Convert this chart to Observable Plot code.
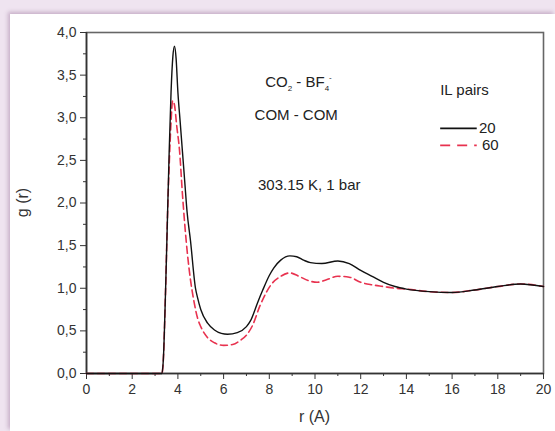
<!DOCTYPE html>
<html><head><meta charset="utf-8">
<script src="https://cdn.jsdelivr.net/npm/d3@7"></script>
<script src="https://cdn.jsdelivr.net/npm/@observablehq/plot@0.6"></script>
<style>
body{margin:0;background:#efe4f0;width:555px;height:431px;overflow:hidden;position:relative;font-family:"Liberation Sans",Arial,sans-serif}
#panel{position:absolute;left:10px;top:14px;right:0;bottom:0;background:#fff;box-shadow:-2px -2px 4px rgba(150,110,150,0.45)}
#chart{position:absolute;left:0;top:0}
</style></head><body><div id="panel"></div><div id="chart"></div>
<script>
// series "20 IL pairs"
const r20 = [0, 1, 2, 3, 3.3, 3.36, 3.46, 3.55, 3.62, 3.7, 3.78, 3.85, 3.92, 4.0, 4.1, 4.2, 4.3, 4.4, 4.55, 4.77, 4.86, 5.0, 5.3, 5.6, 5.9, 6.17, 6.6, 7.0, 7.18, 7.5, 7.7, 8.0, 8.2, 8.5, 8.9, 9.2, 9.5, 9.8, 10.3, 11.0, 11.5, 12.0, 12.5, 13.0, 13.5, 14.0, 15.0, 16.0, 17.0, 18.0, 19.0, 20.0];
const g20 = [0, 0, 0, 0, 0, 0.15, 0.97, 1.9, 2.62, 3.3, 3.72, 3.84, 3.7, 3.3, 2.95, 2.6, 2.25, 1.9, 1.56, 1.0, 0.89, 0.75, 0.59, 0.51, 0.47, 0.46, 0.48, 0.55, 0.62, 0.84, 0.97, 1.15, 1.24, 1.33, 1.38, 1.37, 1.33, 1.30, 1.29, 1.32, 1.29, 1.21, 1.14, 1.07, 1.02, 0.99, 0.96, 0.95, 0.98, 1.02, 1.05, 1.02];
// series "60 IL pairs"
const r60 = [0, 1, 2, 3, 3.3, 3.36, 3.46, 3.55, 3.62, 3.7, 3.77, 3.85, 3.95, 4.07, 4.2, 4.3, 4.4, 4.55, 4.7, 4.86, 5.0, 5.3, 5.6, 6.0, 6.4, 6.74, 7.0, 7.26, 7.6, 8.1, 8.5, 8.9, 9.3, 9.7, 10.1, 10.5, 11.0, 11.5, 12.0, 12.5, 13.0, 13.5, 14.0, 15.0, 16.0, 17.0, 18.0, 19.0, 20.0];
const g60 = [0, 0, 0, 0, 0, 0.15, 0.97, 1.9, 2.45, 2.95, 3.2, 3.15, 2.9, 2.62, 2.1, 1.75, 1.45, 1.1, 0.85, 0.65, 0.55, 0.42, 0.36, 0.33, 0.34, 0.39, 0.45, 0.56, 0.80, 1.05, 1.14, 1.18, 1.14, 1.09, 1.07, 1.10, 1.14, 1.13, 1.07, 1.04, 1.02, 1.0, 0.99, 0.96, 0.95, 0.98, 1.02, 1.05, 1.02];
const seriesNames = ["20", "60"];
const xTicks = [0, 2, 4, 6, 8, 10, 12, 14, 16, 18, 20];
const xMinor = [1, 3, 5, 7, 9, 11, 13, 15, 17, 19];
const yTicks = [0, 0.5, 1, 1.5, 2, 2.5, 3, 3.5, 4];
const yMinor = [0.25, 0.75, 1.25, 1.75, 2.25, 2.75, 3.25, 3.75];
const xLabel = "r (A)";
const yLabel = "g (r)";
const legendTitle = "IL pairs";

const d20 = r20.map((r, i) => ({r, g: g20[i]}));
const d60 = r60.map((r, i) => ({r, g: g60[i]}));
const fmt = d => d.toFixed(1).replace(".", ",");

const plot = Plot.plot({
  width: 555, height: 431,
  marginLeft: 86, marginRight: 12, marginTop: 32, marginBottom: 58,
  style: {background: "transparent", fontFamily: "'Liberation Sans', Arial, sans-serif", color: "#333"},
  x: {domain: [0, 20]},
  y: {domain: [0, 4]},
  marks: [
    Plot.frame({stroke: "#666", strokeWidth: 1.6}),
    Plot.axisX({ticks: xMinor, tickSize: 3, tickFormat: () => "", label: null, stroke: "#333"}),
    Plot.axisY({ticks: yMinor, tickSize: 3, tickFormat: () => "", label: null, stroke: "#333"}),
    Plot.axisX({ticks: xTicks, tickSize: 6, tickPadding: 5, tickFormat: d => d, label: null, stroke: "#333", fill: "#333"}),
    Plot.axisY({ticks: yTicks, tickSize: 6, tickPadding: 4, tickFormat: fmt, label: null, stroke: "#333", fill: "#333"}),
    Plot.ruleX([0], {stroke: "#333", strokeWidth: 1.6}),
    Plot.ruleY([0], {stroke: "#333", strokeWidth: 1.6}),
    Plot.line(d60, {x: "r", y: "g", stroke: "#e8324f", strokeWidth: 1.6, strokeDasharray: "7,4", curve: "monotone-x"}),
    Plot.line(d20, {x: "r", y: "g", stroke: "#111", strokeWidth: 1.4, curve: "monotone-x"})
  ]
});
document.getElementById("chart").append(plot);

const svg = d3.select(plot);
svg.selectAll("text").style("font-size", "14px").style("font-family", "'Liberation Sans', Arial, sans-serif");
const sx = plot.scale("x"), sy = plot.scale("y");
const X = v => sx.apply(v), Y = v => sy.apply(v);
const font = "'Liberation Sans', Arial, sans-serif";

// axis titles
svg.append("text").attr("x", X(10)).attr("y", Y(0) + 49).attr("text-anchor", "middle")
  .attr("font-family", font).attr("font-size", 16).attr("fill", "#333").text(xLabel);
svg.append("text").attr("transform", `translate(${X(0) - 58},${Y(2)}) rotate(-90)`).attr("text-anchor", "middle")
  .attr("font-family", font).attr("font-size", 16).attr("fill", "#333").text(yLabel);

// annotations
const t1 = svg.append("text").attr("x", X(9.3)).attr("y", Y(3.36)).attr("text-anchor", "middle")
  .attr("font-family", font).attr("font-size", 15).attr("fill", "#222");
t1.append("tspan").text("CO");
t1.append("tspan").attr("font-size", 8).attr("dy", 4).text("2");
t1.append("tspan").attr("dy", -4).text(" - BF");
t1.append("tspan").attr("font-size", 8).attr("dy", 4).text("4");
t1.append("tspan").attr("font-size", 8).attr("dy", -11).text("-");
svg.append("text").attr("x", X(9.2)).attr("y", Y(2.97)).attr("text-anchor", "middle")
  .attr("font-family", font).attr("font-size", 15).attr("fill", "#222").text("COM - COM");
svg.append("text").attr("x", X(9.77)).attr("y", Y(2.15)).attr("text-anchor", "middle")
  .attr("font-family", font).attr("font-size", 15).attr("fill", "#222").text("303.15 K, 1 bar");

// legend
svg.append("text").attr("x", X(15.5)).attr("y", Y(3.26)).attr("text-anchor", "start")
  .attr("font-family", font).attr("font-size", 15).attr("fill", "#222").text(legendTitle);
const legY = [2.87, 2.67];
const legStyles = [{stroke: "#111", dash: null}, {stroke: "#e8324f", dash: "10,7"}];
seriesNames.forEach((name, i) => {
  svg.append("line").attr("x1", X(15.5)).attr("x2", X(17.1)).attr("y1", Y(legY[i])).attr("y2", Y(legY[i]))
    .attr("stroke", legStyles[i].stroke).attr("stroke-width", 1.6).attr("stroke-dasharray", legStyles[i].dash);
  svg.append("text").attr("x", X(17.2) + (i ? 3 : 0)).attr("y", Y(legY[i]) + 5).attr("text-anchor", "start")
    .attr("font-family", font).attr("font-size", 15).attr("fill", "#222").text(name);
});
</script></body></html>
